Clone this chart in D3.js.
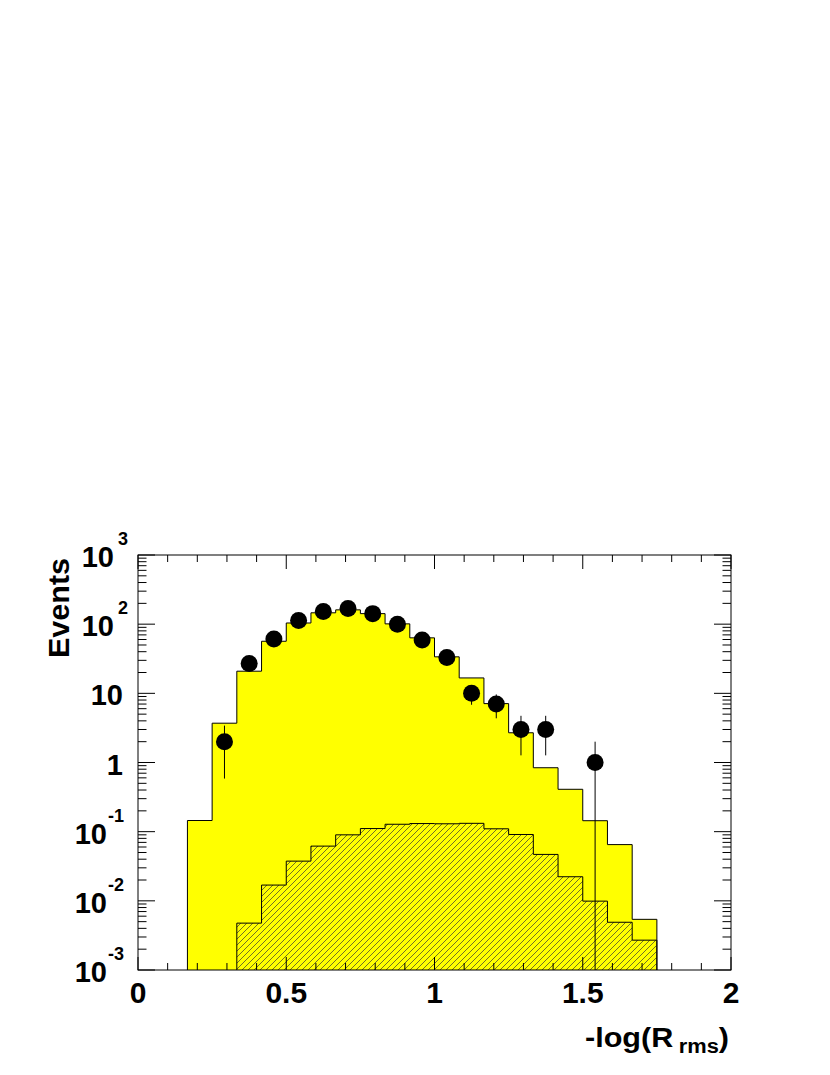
<!DOCTYPE html>
<html>
<head>
<meta charset="utf-8">
<script src="https://cdn.jsdelivr.net/npm/d3@7"></script>
<style>
  html, body { margin: 0; padding: 0; background: #fff; }
  svg { display: block; }
  text { font-family: "Liberation Sans", Arial, Helvetica, sans-serif; font-weight: bold; fill: #000; }
</style>
</head>
<body>
<svg id="chart" width="830" height="1075"></svg>
<script>
// ---------------- data ----------------
// Bin lower edges of the 24-bin histogram on [0, 2]
const binEdges = [0, 0.0833, 0.1667, 0.25, 0.3333, 0.4167, 0.5, 0.5833, 0.6667, 0.75, 0.8333, 0.9167,
                  1.0, 1.0833, 1.1667, 1.25, 1.3333, 1.4167, 1.5, 1.5833, 1.6667, 1.75, 1.8333, 1.9167, 2.0];

// Total expectation (yellow), bins 2..20
const mcTotalFirstBin = 2;
const mcTotal = [0.145, 3.7, 20.9, 56.6, 104, 146, 161, 142, 101, 63.4, 33.7, 16.7, 7.1, 2.69,
                 0.84, 0.41, 0.144, 0.065, 0.0054];

// Hatched component, bins 4..20
const mcHatchFirstBin = 4;
const mcHatch = [0.00476, 0.0169, 0.0375, 0.0618, 0.090, 0.111, 0.128, 0.131, 0.130, 0.132,
                 0.110, 0.091, 0.0469, 0.0223, 0.0099, 0.0049, 0.0027];

// Observed events (points), bins 3..18
const dataFirstBin = 3;
const dataCounts = [2, 27, 61, 113, 152, 168, 142, 100, 59, 33, 10, 7, 3, 3, 0, 1];

// Axis ticks and labels
const xMajorTicks = [0, 0.5, 1, 1.5, 2];
const xTickLabels = ["0", "0.5", "1", "1.5", "2"];
const xMinorTicks = [0.1, 0.2, 0.3, 0.4, 0.6, 0.7, 0.8, 0.9, 1.1, 1.2, 1.3, 1.4, 1.6, 1.7, 1.8, 1.9];
const yDecades = [1e-3, 1e-2, 1e-1, 1, 10, 100, 1000];
const yTickBase = ["10", "10", "10", "1", "10", "10", "10"];
const yTickExp  = ["-3", "-2", "-1", "", "", "2", "3"];
const xTitleMain = "-log(R";
const xTitleSub = "rms";
const yTitle = "Events";

// ---------------- layout ----------------
const L = 138, R = 731, T = 555, B = 970;
const svg = d3.select("#chart");
const x = d3.scaleLinear().domain([0, 2]).range([L, R]);
const y = d3.scaleLog().domain([1e-3, 1e3]).range([B, T]);

// hatch pattern
const defs = svg.append("defs");
const pat = defs.append("pattern").attr("id", "hatch").attr("patternUnits", "userSpaceOnUse")
  .attr("width", 6).attr("height", 6);
pat.append("path").attr("d", "M-1,1 l2,-2 M0,6 l6,-6 M5,7 l2,-2")
  .attr("stroke", "#333").attr("stroke-width", 0.7);
defs.append("clipPath").attr("id", "plotclip").append("rect")
  .attr("x", L).attr("y", T).attr("width", R - L).attr("height", B - T);

function stepPath(vals, firstBin) {
  const p = d3.path();
  p.moveTo(x(binEdges[firstBin]), y.range()[0]);
  vals.forEach((v, i) => {
    const yy = y(v);
    p.lineTo(x(binEdges[firstBin + i]), yy);
    p.lineTo(x(binEdges[firstBin + i + 1]), yy);
  });
  p.lineTo(x(binEdges[firstBin + vals.length]), y.range()[0]);
  return p.toString();
}

const g = svg.append("g").attr("clip-path", "url(#plotclip)");
// yellow total
g.append("path").attr("d", stepPath(mcTotal, mcTotalFirstBin) + "Z")
  .attr("fill", "#ffff00").attr("stroke", "none");
g.append("path").attr("d", stepPath(mcTotal, mcTotalFirstBin))
  .attr("fill", "none").attr("stroke", "#000").attr("stroke-width", 1);
// hatched
g.append("path").attr("d", stepPath(mcHatch, mcHatchFirstBin) + "Z")
  .attr("fill", "url(#hatch)").attr("stroke", "none");
g.append("path").attr("d", stepPath(mcHatch, mcHatchFirstBin))
  .attr("fill", "none").attr("stroke", "#000").attr("stroke-width", 1);

// data points with sqrt(N) errors
const pts = dataCounts.map((n, i) => ({
  n, xc: (binEdges[dataFirstBin + i] + binEdges[dataFirstBin + i + 1]) / 2
})).filter(d => d.n > 0);
g.selectAll("line.err").data(pts).enter().append("line")
  .attr("x1", d => x(d.xc)).attr("x2", d => x(d.xc))
  .attr("y1", d => d.n - Math.sqrt(d.n) > 0 ? y(d.n - Math.sqrt(d.n)) : B + 5)
  .attr("y2", d => y(d.n + Math.sqrt(d.n)))
  .attr("stroke", "#000").attr("stroke-width", 1);
g.selectAll("circle.pt").data(pts).enter().append("circle")
  .attr("cx", d => x(d.xc)).attr("cy", d => y(d.n)).attr("r", 8.5).attr("fill", "#000");

// ---------------- axes ----------------
const axG = svg.append("g").attr("stroke", "#000").attr("stroke-width", 1);
// x ticks bottom and top
xMajorTicks.forEach(v => {
  axG.append("line").attr("x1", x(v)).attr("x2", x(v)).attr("y1", B).attr("y2", B - 13);
  axG.append("line").attr("x1", x(v)).attr("x2", x(v)).attr("y1", T).attr("y2", T + 14);
});
xMinorTicks.forEach(v => {
  axG.append("line").attr("x1", x(v)).attr("x2", x(v)).attr("y1", B).attr("y2", B - 7);
  axG.append("line").attr("x1", x(v)).attr("x2", x(v)).attr("y1", T).attr("y2", T + 7);
});
// y ticks left and right (log)
yDecades.forEach((d, i) => {
  axG.append("line").attr("x1", L).attr("x2", L + 17).attr("y1", y(d)).attr("y2", y(d));
  axG.append("line").attr("x1", R).attr("x2", R - 17).attr("y1", y(d)).attr("y2", y(d));
  if (i < yDecades.length - 1) {
    for (let k = 2; k <= 9; k++) {
      const v = d * k;
      axG.append("line").attr("x1", L).attr("x2", L + 8.5).attr("y1", y(v)).attr("y2", y(v));
      axG.append("line").attr("x1", R).attr("x2", R - 8.5).attr("y1", y(v)).attr("y2", y(v));
    }
  }
});
// frame
svg.append("rect").attr("x", L).attr("y", T).attr("width", R - L).attr("height", B - T)
  .attr("fill", "none").attr("stroke", "#000").attr("stroke-width", 1);

// x tick labels
svg.selectAll("text.xl").data(xMajorTicks).enter().append("text")
  .attr("x", d => x(d)).attr("y", 1003).attr("text-anchor", "middle")
  .attr("font-size", 30).text((d, i) => xTickLabels[i]);

// y tick labels
yDecades.forEach((d, i) => {
  const yy = y(d);
  const exp = yTickExp[i];
  if (exp === "") {
    svg.append("text").attr("x", 123).attr("y", yy + 12).attr("text-anchor", "end")
      .attr("font-size", 29).text(yTickBase[i]);
  } else {
    const neg = exp.startsWith("-");
    svg.append("text").attr("x", neg ? 107 : 114).attr("y", yy + 12).attr("text-anchor", "end")
      .attr("font-size", 29).text(yTickBase[i]);
    svg.append("text").attr("x", neg ? 108 : 118).attr("y", yy - 10).attr("text-anchor", "start")
      .attr("font-size", 18).text(exp);
  }
});

// axis titles
const xt = svg.append("text").attr("x", 585).attr("y", 1047).attr("font-size", 28);
xt.append("tspan").text(xTitleMain);
xt.append("tspan").attr("dx", 5).attr("dy", 6).attr("font-size", 20).text(xTitleSub);
xt.append("tspan").attr("dy", -6).text(")");
xt.attr("textLength", 144).attr("lengthAdjust", "spacingAndGlyphs");

svg.append("text").attr("transform", "translate(69,558) rotate(-90)")
  .attr("text-anchor", "end").attr("font-size", 30)
  .attr("textLength", 100).attr("lengthAdjust", "spacingAndGlyphs")
  .text(yTitle);
</script>
</body>
</html>
